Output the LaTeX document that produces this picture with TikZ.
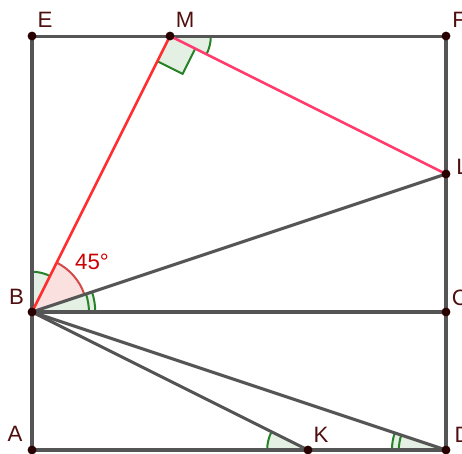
\documentclass[tikz,border=0pt]{standalone}
\usepackage{fontspec}
\setmainfont{Liberation Sans}
\usetikzlibrary{angles}
\definecolor{segGray}{RGB}{85,85,85}
\definecolor{ptDark}{RGB}{40,0,0}
\definecolor{lblDark}{RGB}{80,15,15}
\definecolor{angGreen}{RGB}{40,130,40}
\definecolor{angFill}{RGB}{229,240,229}
\definecolor{pinkArc}{RGB}{210,75,75}
\definecolor{pinkFill}{RGB}{251,224,224}
\definecolor{lineRed}{RGB}{255,45,45}
\definecolor{linePink}{RGB}{255,60,110}
\definecolor{labelRed}{RGB}{204,0,0}

\begin{document}
\begin{tikzpicture}[
  x=2.4cm, y=2.4cm,
  seg/.style={draw=segGray, line width=1.5pt},
  pt/.style={fill=ptDark},
  lbl/.style={text=lblDark, font=\fontsize{11}{13}\selectfont, inner sep=0pt},
  ang/.style={draw=angGreen, fill=angFill, line width=1pt},
  arconly/.style={draw=angGreen, line width=1pt}
]
\useasboundingbox (-0.232,-0.022) rectangle (3.116,3.261);
\clip (-0.232,-0.022) rectangle (3.116,3.261);

\coordinate (A) at (0,0);
\coordinate (D) at (3,0);
\coordinate (C) at (3,1);
\coordinate (B) at (0,1);
\coordinate (E) at (0,3);
\coordinate (F) at (3,3);
\coordinate (M) at (1,3);
\coordinate (L) at (3,2);
\coordinate (K) at (2,0);

% angle marks
\pic[ang, angle radius=0.70cm] {angle=M--B--E};
\pic[ang, angle radius=1.10cm] {angle=C--B--L};
\pic[arconly, angle radius=0.99cm] {angle=C--B--L};
\pic[draw=pinkArc, fill=pinkFill, line width=1pt, angle radius=0.96cm] {angle=L--B--M};
\pic[ang, angle radius=0.71cm] {angle=B--K--A};
\pic[ang, angle radius=0.94cm] {angle=B--D--A};
\pic[arconly, angle radius=0.82cm] {angle=B--D--A};
\pic[ang, angle radius=0.71cm] {angle=L--M--F};
\pic[ang, angle radius=0.49cm] {right angle=B--M--L};

% segments
\draw[seg] (A) -- (D);
\draw[seg] (D) -- (C);
\draw[seg] (C) -- (L);
\draw[seg] (L) -- (F);
\draw[seg] (F) -- (M);
\draw[seg] (M) -- (E);
\draw[seg] (E) -- (B);
\draw[seg] (B) -- (A);
\draw[seg] (B) -- (C);
\draw[seg] (B) -- (L);
\draw[seg] (B) -- (K);
\draw[seg] (B) -- (D);
\draw[draw=lineRed, line width=1.3pt] (B) -- (M);
\draw[draw=linePink, line width=1.3pt] (M) -- (L);

% points
\foreach \p in {A,B,C,D,E,F,K,L,M}
  \fill[pt] (\p) circle (2.2pt);

% labels
\node[lbl] (lA) at (-0.123,0.116) {A};
\node[lbl] (lB) at (-0.112,1.109) {B};
\node[lbl, anchor=west] (lC) at (3.04,1.10) {C};
\node[lbl, anchor=west] (lD) at (3.06,0.109) {D};
\node[lbl] (lE) at (0.094,3.116) {E};
\node[lbl, anchor=west] (lF) at (3.043,3.116) {F};
\node[lbl] (lK) at (2.094,0.109) {K};
\node[lbl, anchor=west] (lL) at (3.072,2.05) {L};
\node[lbl] (lM) at (1.109,3.116) {M};
\node[lbl, text=labelRed] (ang45) at (0.435,1.362) {45°};
\end{tikzpicture}
\end{document}
